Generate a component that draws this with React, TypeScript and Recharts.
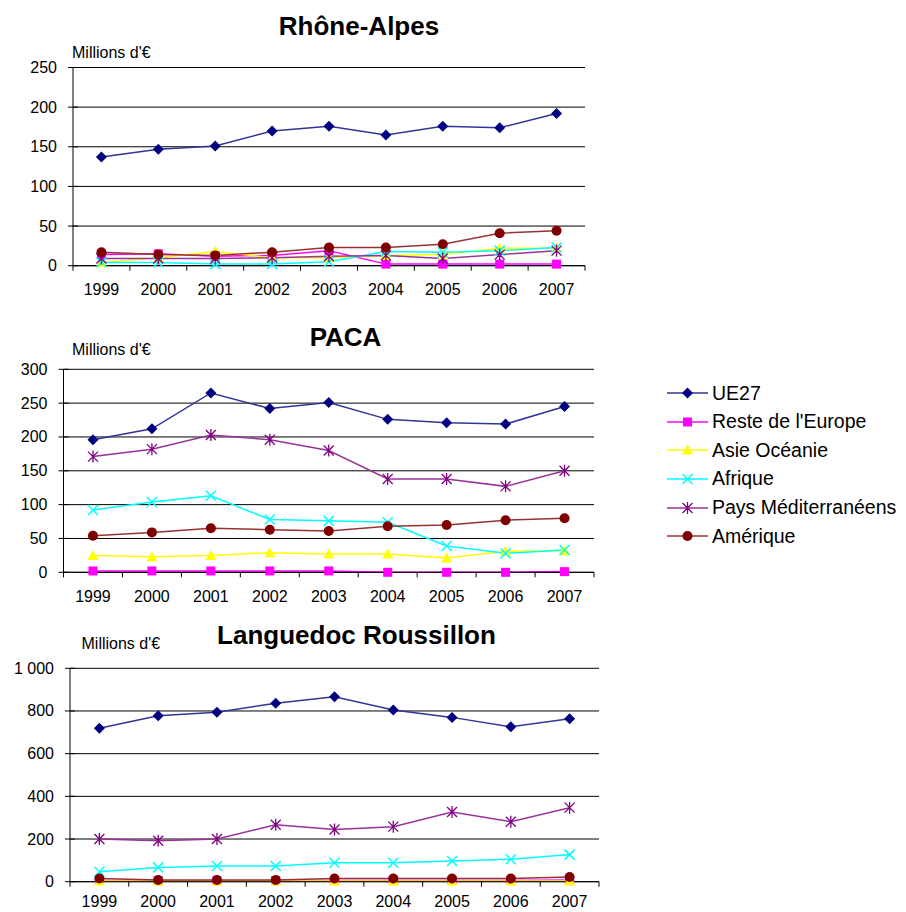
import React from 'react';
import { LineChart, Line, XAxis, YAxis, CartesianGrid, Legend } from 'recharts';

const FONT = '"Liberation Sans", Arial, sans-serif';

const years = ['1999', '2000', '2001', '2002', '2003', '2004', '2005', '2006', '2007'];

const seriesNames = ['UE27', "Reste de l'Europe", 'Asie Océanie', 'Afrique', 'Pays Méditerranéens', 'Amérique'];

// Rhône-Alpes
const raUE27 = [137, 147, 151, 170, 176, 165, 176, 174, 192];
const raReste = [14, 15, 12, 13, 19, 2, 2, 2, 2];
const raAsie = [4, 10, 18, 10, 10, 13, 14, 22, 22];
const raAfrique = [4, 4, 2, 2, 5, 18, 17, 19, 23];
const raPays = [9, 9, 9, 10, 12, 13, 9, 14, 19];
const raAmerique = [17, 14, 13, 17, 23, 23, 27, 41, 44];
const raTicks = [0, 50, 100, 150, 200, 250];

// PACA
const pacaUE27 = [196, 212, 265, 242, 251, 226, 221, 219, 245];
const pacaReste = [2, 2, 2, 2, 2, 0, 0, 0, 1];
const pacaAsie = [25, 23, 25, 29, 27, 27, 21, 31, 32];
const pacaAfrique = [92, 104, 113, 78, 76, 74, 39, 28, 33];
const pacaPays = [171, 182, 203, 196, 180, 138, 138, 127, 150];
const pacaAmerique = [54, 59, 65, 63, 61, 68, 70, 77, 80];
const pacaTicks = [0, 50, 100, 150, 200, 250, 300];

// Languedoc Roussillon
const lrUE27 = [719, 778, 794, 836, 867, 805, 770, 726, 764];
const lrReste = [6, 5, 5, 5, 6, 6, 6, 6, 8];
const lrAsie = [3, 3, 3, 3, 3, 3, 3, 3, 3];
const lrAfrique = [47, 67, 74, 74, 89, 89, 97, 105, 127];
const lrPays = [200, 192, 200, 267, 245, 258, 327, 281, 347];
const lrAmerique = [15, 8, 8, 8, 15, 15, 15, 15, 22];
const lrTicks = [0, 200, 400, 600, 800, 1000];

type Shape = 'diamond' | 'square' | 'triangle' | 'x' | 'star' | 'circle';

const STYLES: { line: string; marker: string; shape: Shape }[] = [
  { line: '#333399', marker: '#000080', shape: 'diamond' },
  { line: '#FF00FF', marker: '#FF00FF', shape: 'square' },
  { line: '#FFFF00', marker: '#FFFF00', shape: 'triangle' },
  { line: '#00FFFF', marker: '#00FFFF', shape: 'x' },
  { line: '#993399', marker: '#800080', shape: 'star' },
  { line: '#993333', marker: '#800000', shape: 'circle' },
];

function buildRows(values: number[][]) {
  return years.map((y, i) => {
    const r: any = { year: y };
    values.forEach((v, k) => {
      r['s' + k] = v[i];
    });
    return r;
  });
}

const raRows = buildRows([raUE27, raReste, raAsie, raAfrique, raPays, raAmerique]);
const pacaRows = buildRows([pacaUE27, pacaReste, pacaAsie, pacaAfrique, pacaPays, pacaAmerique]);
const lrRows = buildRows([lrUE27, lrReste, lrAsie, lrAfrique, lrPays, lrAmerique]);

function Marker({ cx, cy, shape, color }: { cx: number; cy: number; shape: Shape; color: string }) {
  switch (shape) {
    case 'diamond':
      return <path d={`M${cx},${cy - 5.5}L${cx + 5.5},${cy}L${cx},${cy + 5.5}L${cx - 5.5},${cy}Z`} fill={color} />;
    case 'square':
      return <rect x={cx - 4.5} y={cy - 4.5} width={9} height={9} fill={color} />;
    case 'triangle':
      return <path d={`M${cx},${cy - 5.5}L${cx + 5.5},${cy + 4.5}L${cx - 5.5},${cy + 4.5}Z`} fill={color} />;
    case 'x':
      return (
        <path
          d={`M${cx - 5},${cy - 5}L${cx + 5},${cy + 5}M${cx - 5},${cy + 5}L${cx + 5},${cy - 5}`}
          stroke={color}
          strokeWidth={1.5}
          fill="none"
        />
      );
    case 'star':
      return (
        <path
          d={`M${cx - 5},${cy - 5}L${cx + 5},${cy + 5}M${cx - 5},${cy + 5}L${cx + 5},${cy - 5}M${cx},${cy - 6}L${cx},${cy + 6}`}
          stroke={color}
          strokeWidth={1.3}
          fill="none"
        />
      );
    case 'circle':
    default:
      return <circle cx={cx} cy={cy} r={5} fill={color} />;
  }
}

const makeXTick = (band: number, count: number, labelOffset: number) => (props: any) => {
  const { x, y, payload, index } = props;
  return (
    <g>
      <line x1={x - band / 2} x2={x - band / 2} y1={y} y2={y + 5} stroke="#000" />
      {index === count - 1 && <line x1={x + band / 2} x2={x + band / 2} y1={y} y2={y + 5} stroke="#000" />}
      <text
        x={x}
        y={y + labelOffset}
        textAnchor="middle"
        dominantBaseline="central"
        fontSize={16}
        fill="#000"
        fontFamily={FONT}
      >
        {payload.value}
      </text>
    </g>
  );
};

const makeYTick = (fmt: (v: number) => string) => (props: any) => {
  const { x, y, payload } = props;
  return (
    <g>
      <line x1={x - 5} x2={x + 5} y1={y} y2={y} stroke="#000" />
      <text x={x - 16} y={y} textAnchor="end" dominantBaseline="central" fontSize={16} fill="#000" fontFamily={FONT}>
        {fmt(payload.value)}
      </text>
    </g>
  );
};

const plainFmt = (v: number) => String(v);
const spaceFmt = (v: number) => (v >= 1000 ? `${Math.floor(v / 1000)} ${String(v % 1000).padStart(3, '0')}` : String(v));

const LegendContent = (props: any) => {
  const payload = [...(props.payload || [])].sort(
    (a: any, b: any) => seriesNames.indexOf(a.value) - seriesNames.indexOf(b.value)
  );
  return (
    <div style={{ fontFamily: FONT, fontSize: 19.5, color: '#000' }}>
      {payload.map((e: any) => {
        const idx = seriesNames.indexOf(e.value);
        const st = STYLES[idx];
        return (
          <div key={e.value} style={{ display: 'flex', alignItems: 'center', height: 28.6 }}>
            <svg width={44} height={16} style={{ display: 'block' }}>
              <line x1={2} x2={43} y1={8} y2={8} stroke={st.line} strokeWidth={1.5} />
              <Marker cx={22.5} cy={8} shape={st.shape} color={st.marker} />
            </svg>
            <span style={{ marginLeft: 3, whiteSpace: 'nowrap', lineHeight: 1 }}>{e.value}</span>
          </div>
        );
      })}
    </div>
  );
};

function RegionChart(props: {
  rows: any[];
  ticks: number[];
  width: number;
  height: number;
  margin: { top: number; right: number; bottom: number; left: number };
  yWidth: number;
  fmt: (v: number) => string;
  labelOffset: number;
  legend?: boolean;
}) {
  const { rows, ticks, width, height, margin, yWidth, fmt, legend, labelOffset } = props;
  const plotW = width - margin.left - margin.right - yWidth;
  const band = plotW / years.length;
  return (
    <LineChart width={width} height={height} data={rows} margin={margin}>
      <CartesianGrid vertical={false} stroke="#000" strokeWidth={1} />
      <XAxis
        dataKey="year"
        scale="band"
        height={30}
        interval={0}
        tickSize={0}
        tickMargin={0}
        tickLine={false}
        axisLine={{ stroke: '#000' }}
        tick={makeXTick(band, years.length, labelOffset)}
      />
      <YAxis
        type="number"
        width={yWidth}
        domain={[0, ticks[ticks.length - 1]]}
        ticks={ticks}
        interval={0}
        tickSize={0}
        tickMargin={0}
        tickLine={false}
        axisLine={{ stroke: '#000' }}
        tick={makeYTick(fmt)}
      />
      {seriesNames.map((name, k) => (
        <Line
          key={name}
          type="linear"
          dataKey={'s' + k}
          name={name}
          stroke={STYLES[k].line}
          strokeWidth={1.5}
          isAnimationActive={false}
          activeDot={false}
          dot={(p: any) => (
            <Marker key={`${name}-${p.index}`} cx={p.cx} cy={p.cy} shape={STYLES[k].shape} color={STYLES[k].marker} />
          )}
        />
      ))}
      {legend && (
        <Legend
          layout="vertical"
          align="center"
          verticalAlign="middle"
          wrapperStyle={{ left: 665, top: 69, width: 241 }}
          content={LegendContent}
        />
      )}
    </LineChart>
  );
}

const titleStyle = (cx: number, top: number): React.CSSProperties => ({
  position: 'absolute',
  left: cx - 250,
  width: 500,
  top,
  textAlign: 'center',
  fontFamily: FONT,
  fontWeight: 'bold',
  fontSize: 26,
  lineHeight: 1,
  color: '#000',
  whiteSpace: 'nowrap',
});

const unitStyle = (left: number, top: number): React.CSSProperties => ({
  position: 'absolute',
  left,
  top,
  fontFamily: FONT,
  fontSize: 16,
  lineHeight: 1,
  color: '#000',
  whiteSpace: 'nowrap',
});

export default function App() {
  return (
    <div
      style={{
        position: 'absolute',
        left: 0,
        top: 0,
        width: 906,
        height: 912,
        background: '#fff',
        overflow: 'hidden',
        fontFamily: FONT,
      }}
    >
      <div style={{ position: 'absolute', left: 0, top: 0 }}>
        <RegionChart
          rows={raRows}
          ticks={raTicks}
          width={600}
          height={310}
          margin={{ top: 67.5, right: 15, bottom: 14.3, left: 0 }}
          yWidth={73}
          fmt={plainFmt}
          labelOffset={24}
        />
      </div>
      <div style={{ position: 'absolute', left: 0, top: 310 }}>
        <RegionChart
          rows={pacaRows}
          ticks={pacaTicks}
          width={906}
          height={300}
          margin={{ top: 59.3, right: 312, bottom: 7.7, left: 0 }}
          yWidth={63.5}
          fmt={plainFmt}
          labelOffset={24}
          legend
        />
      </div>
      <div style={{ position: 'absolute', left: 0, top: 610 }}>
        <RegionChart
          rows={lrRows}
          ticks={lrTicks}
          width={620}
          height={302}
          margin={{ top: 58.3, right: 21, bottom: 0.3, left: 0 }}
          yWidth={70}
          fmt={spaceFmt}
          labelOffset={19.5}
        />
      </div>
      <div style={titleStyle(359, 13.3)}>Rhône-Alpes</div>
      <div style={titleStyle(345.5, 323.7)}>PACA</div>
      <div style={titleStyle(356.5, 622)}>Languedoc Roussillon</div>
      <div style={unitStyle(72, 44.5)}>Millions d'€</div>
      <div style={unitStyle(72, 342)}>Millions d'€</div>
      <div style={unitStyle(81.5, 636)}>Millions d'€</div>
    </div>
  );
}
